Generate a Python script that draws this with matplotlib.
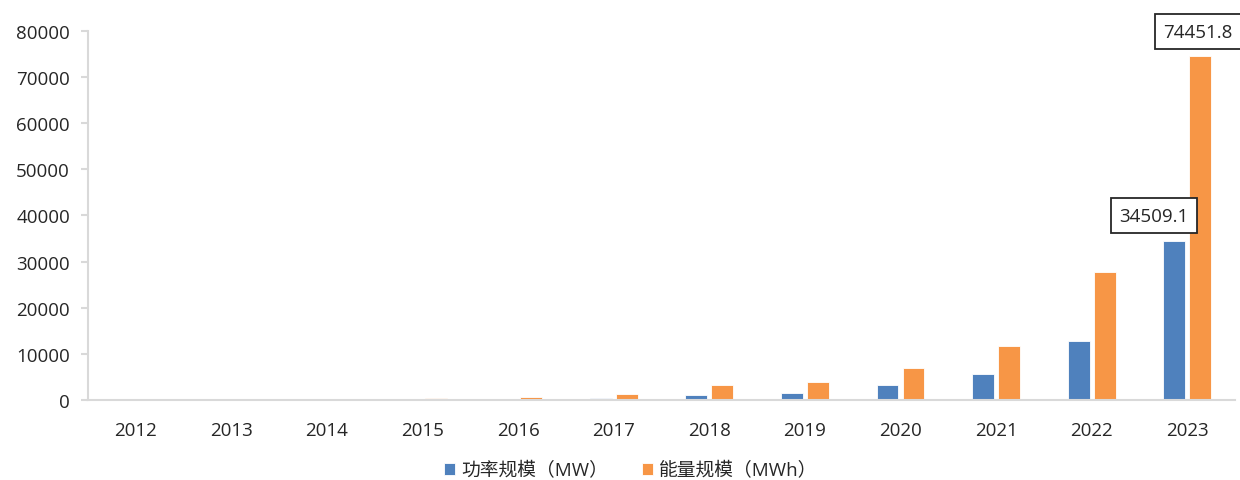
import matplotlib.pyplot as plt
import numpy as np

plt.rcParams['font.family'] = ['Open Sans', 'Noto Sans CJK SC', 'DejaVu Sans']

# data
years = ['2012', '2013', '2014', '2015', '2016', '2017',
         '2018', '2019', '2020', '2021', '2022', '2023']
power_mw = [30, 60, 90, 140, 240, 390, 1070, 1500, 3200, 5600, 12900, 34509.1]
energy_mwh = [60, 300, 300, 500, 750, 1300, 3200, 4000, 6900, 11800, 27800, 74451.8]

blue = '#4F81BD'
orange = '#F79646'
grey = '#D9D9D9'
txt = '#262626'

fig = plt.figure(figsize=(12.4, 4.81), dpi=100)
ax = fig.add_axes([0.071, 0.166, 0.925, 0.768])

x = np.arange(len(years))
w = 0.23
off = 0.136
ax.bar(x - off, power_mw, w, color=blue, edgecolor='white', linewidth=0.6,
       label='功率规模（MW）')
ax.bar(x + off, energy_mwh, w, color=orange, edgecolor='white', linewidth=0.6,
       label='能量规模（MWh）')

ax.set_xlim(-0.5, len(years) - 0.5)
ax.set_ylim(0, 80000)
ax.set_yticks(range(0, 80001, 10000))
ax.set_xticks(x)
ax.set_xticklabels(years)

for s in ['top', 'right']:
    ax.spines[s].set_visible(False)
for s in ['left', 'bottom']:
    ax.spines[s].set_color(grey)
    ax.spines[s].set_linewidth(1.5)
ax.tick_params(axis='y', length=5, width=1.5, color=grey, labelsize=13.5,
               labelcolor=txt, pad=8)
ax.tick_params(axis='x', length=0, labelsize=13.5, labelcolor=txt, pad=15)

# boxed labels on the last pair of bars
box = dict(boxstyle='square,pad=0.45', fc='white', ec='#262626', lw=1.3)
ax.annotate(f'{power_mw[-1]:.1f}', (x[-1] - off, power_mw[-1]),
            xytext=(-14.4, 18), textcoords='offset points', ha='center', va='center',
            fontsize=13.5, color=txt, bbox=box)
ax.annotate(f'{energy_mwh[-1]:.1f}', (x[-1] + off, energy_mwh[-1]),
            xytext=(-1.8, 17.6), textcoords='offset points', ha='center', va='center',
            fontsize=13.5, color=txt, bbox=box)

ax.legend(loc='upper center', bbox_to_anchor=(0.473, -0.12), ncol=2, frameon=False,
          fontsize=13.5, handlelength=0.6, handleheight=0.6, handletextpad=0.3,
          columnspacing=1.8, labelcolor=txt)

fig.savefig('out.png', dpi=100)
